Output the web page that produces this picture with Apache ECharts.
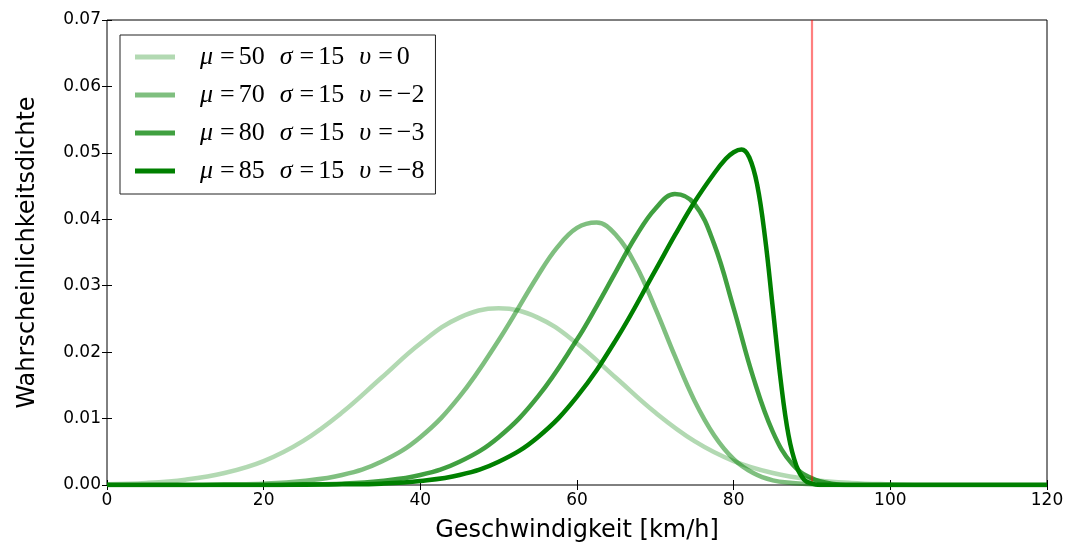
<!DOCTYPE html>
<html>
<head>
<meta charset="utf-8">
<style>
  html, body { margin: 0; padding: 0; background: #fff; }
  #chart { width: 1069px; height: 542px; }
</style>
<script src="https://cdn.jsdelivr.net/npm/echarts@6/dist/echarts.min.js"></script>
</head>
<body>
<div id="chart"></div>
<script>
// Distribution parameters for each curve
const muValues = [50, 70, 80, 85];
const sigmaValues = [15, 15, 15, 15];
const nuValues = [0, -2, -3, -8];

// Speed limit marker [km/h]
const speedLimit = 90;

// Axis ticks
const xTicks = [0, 20, 40, 60, 80, 100, 120];
const yTicks = [0, 0.01, 0.02, 0.03, 0.04, 0.05, 0.06, 0.07];

// Curve 1: mu=50, sigma=15, nu=0
const speeds1 = [0, 5, 10, 15, 20, 25, 30, 35, 40, 45, 50, 55, 60, 65, 70, 75, 80, 85, 90, 95, 100, 105, 110, 115, 120];
const density1 = [0.0001, 0.0003, 0.0008, 0.0018, 0.0036, 0.0066, 0.0109, 0.0161, 0.0213, 0.0252, 0.0266, 0.0252, 0.0213, 0.0161, 0.0109, 0.0066, 0.0036, 0.0018, 0.0008, 0.0003, 0.0001, 0, 0, 0, 0];

// Curve 2: mu=70, sigma=15, nu=-2
const speeds2 = [0, 10, 15, 20, 25, 30, 35, 40, 45, 50, 55, 57.5, 60, 62.5, 65, 67.5, 70, 72.5, 75, 77.5, 80, 82.5, 85, 87.5, 90, 95, 100, 110, 120];
const density2 = [0, 0, 0.0001, 0.0002, 0.0006, 0.0015, 0.0035, 0.0072, 0.0133, 0.0218, 0.0315, 0.0358, 0.0387, 0.0395, 0.0376, 0.0331, 0.0266, 0.0194, 0.0127, 0.0075, 0.0039, 0.0018, 0.0007, 0.0003, 0.0001, 0, 0, 0, 0];

// Curve 3: mu=80, sigma=15, nu=-3
const speeds3 = [0, 10, 20, 25, 30, 35, 40, 45, 50, 55, 60, 62.5, 65, 67.5, 70, 72.5, 75, 77.5, 80, 82.5, 85, 87.5, 90, 92.5, 95, 100, 110, 120];
const density3 = [0, 0, 0, 0.0001, 0.0002, 0.0006, 0.0015, 0.0035, 0.0072, 0.0133, 0.0219, 0.0269, 0.0322, 0.0374, 0.0416, 0.0438, 0.0423, 0.0363, 0.0266, 0.0162, 0.0080, 0.0031, 0.0010, 0.0002, 0, 0, 0, 0];

// Curve 4: mu=85, sigma=15, nu=-8
const speeds4 = [0, 10, 20, 30, 35, 40, 45, 50, 55, 60, 65, 70, 72.5, 75, 77.5, 79, 80, 81, 82, 83, 84, 85, 86, 87, 88, 89, 90, 91, 95, 100, 110, 120];
const density4 = [0, 0, 0, 0.0001, 0.0002, 0.0006, 0.0015, 0.0035, 0.0072, 0.0133, 0.0219, 0.0323, 0.0376, 0.0426, 0.0469, 0.0491, 0.0501, 0.0505, 0.0493, 0.0452, 0.0373, 0.0266, 0.0158, 0.0075, 0.0029, 0.0008, 0.0002, 0, 0, 0, 0, 0];

const speedSets = [speeds1, speeds2, speeds3, speeds4];
const densitySets = [density1, density2, density3, density4];
const curveAlphas = [0.3, 0.5, 0.75, 1.0];

const fmtNum = v => (v < 0 ? '\u2212' + Math.abs(v) : String(v));
const seriesNames = muValues.map((m, i) => `mu${m}_sigma${sigmaValues[i]}_nu${nuValues[i]}`);

const chart = echarts.init(document.getElementById('chart'), null, { renderer: 'canvas' });

const curveSeries = seriesNames.map((name, i) => {
  const color = `rgba(0,128,0,${curveAlphas[i]})`;
  return {
    name: name,
    type: 'line',
    data: speedSets[i].map((x, k) => [x, densitySets[i][k]]),
    smooth: 0.4,
    showSymbol: false,
    symbol: 'none',
    color: color,
    lineStyle: { color: color, width: 4.5 },
    z: 2 + i
  };
});

const limitSeries = {
  name: 'limit',
  type: 'line',
  data: [],
  z: 10,
  markLine: {
    silent: true,
    symbol: ['none', 'none'],
    label: { show: false },
    lineStyle: { color: 'rgba(255,0,0,0.5)', width: 2.2, type: 'solid' },
    data: [{ xAxis: speedLimit }]
  }
};

const tickFont = { fontFamily: 'DejaVu Sans', fontSize: 17, color: '#000' };

// One legend row: italic symbol, "=" and the value, with a gap between the three groups
const legendLabel = i =>
  `{sp|}{g|μ}{e|=}{r|${fmtNum(muValues[i])}}{gap|}` +
  `{g|σ}{e|=}{r|${fmtNum(sigmaValues[i])}}{gap|}` +
  `{g|υ}{e|=}{r|${fmtNum(nuValues[i])}}`;

chart.setOption({
  animation: false,
  backgroundColor: '#fff',
  grid: {
    left: 107, right: 22, top: 20, bottom: 57,
    outerBoundsMode: 'none',
    show: true, borderColor: '#000', borderWidth: 1, backgroundColor: 'transparent'
  },
  legend: {
    data: seriesNames,
    orient: 'vertical',
    left: 120, top: 35,
    backgroundColor: '#fff',
    borderColor: '#222', borderWidth: 1, borderRadius: 0,
    padding: [9, 11, 10, 15],
    itemWidth: 40, itemHeight: 5, itemGap: 12,
    icon: 'rect',
    selectedMode: false,
    formatter: name => legendLabel(seriesNames.indexOf(name)),
    textStyle: {
      fontFamily: 'Liberation Serif', fontSize: 26, color: '#000', lineHeight: 26,
      rich: {
        sp: { width: 20 },
        gap: { width: 15 },
        g: { fontFamily: 'Liberation Serif', fontStyle: 'italic', fontSize: 26, padding: [0, 5, 0, 0] },
        e: { fontFamily: 'Liberation Serif', fontSize: 26, padding: [0, 4, 0, 2] },
        r: { fontFamily: 'Liberation Serif', fontSize: 26 }
      }
    }
  },
  xAxis: [{
    type: 'value', min: xTicks[0], max: xTicks[xTicks.length - 1], interval: xTicks[1] - xTicks[0],
    position: 'bottom',
    name: 'Geschwindigkeit [km/h]', nameLocation: 'middle', nameGap: 34,
    nameTextStyle: { fontFamily: 'DejaVu Sans', fontSize: 24, color: '#000' },
    axisLine: { show: false },
    axisTick: { show: true, inside: true, length: 5, lineStyle: { color: '#000' } },
    axisLabel: Object.assign({ margin: 7 }, tickFont),
    splitLine: { show: false }
  }, {
    type: 'value', min: xTicks[0], max: xTicks[xTicks.length - 1], interval: xTicks[1] - xTicks[0],
    position: 'top',
    axisLine: { show: false },
    axisTick: { show: true, inside: true, length: 5, lineStyle: { color: '#000' } },
    axisLabel: { show: false },
    splitLine: { show: false }
  }],
  yAxis: [{
    type: 'value', min: yTicks[0], max: yTicks[yTicks.length - 1], interval: yTicks[1] - yTicks[0],
    position: 'left',
    name: 'Wahrscheinlichkeitsdichte', nameLocation: 'middle', nameGap: 67, nameRotate: 90,
    nameTextStyle: { fontFamily: 'DejaVu Sans', fontSize: 24, color: '#000' },
    axisLine: { show: false },
    axisTick: { show: true, inside: true, length: 5, lineStyle: { color: '#000' } },
    axisLabel: Object.assign({ margin: 6, formatter: v => v.toFixed(2) }, tickFont),
    splitLine: { show: false }
  }, {
    type: 'value', min: yTicks[0], max: yTicks[yTicks.length - 1], interval: yTicks[1] - yTicks[0],
    position: 'right',
    axisLine: { show: false },
    axisTick: { show: true, inside: true, length: 5, lineStyle: { color: '#000' } },
    axisLabel: { show: false },
    splitLine: { show: false }
  }],
  series: curveSeries.concat([limitSeries])
});
</script>
</body>
</html>
